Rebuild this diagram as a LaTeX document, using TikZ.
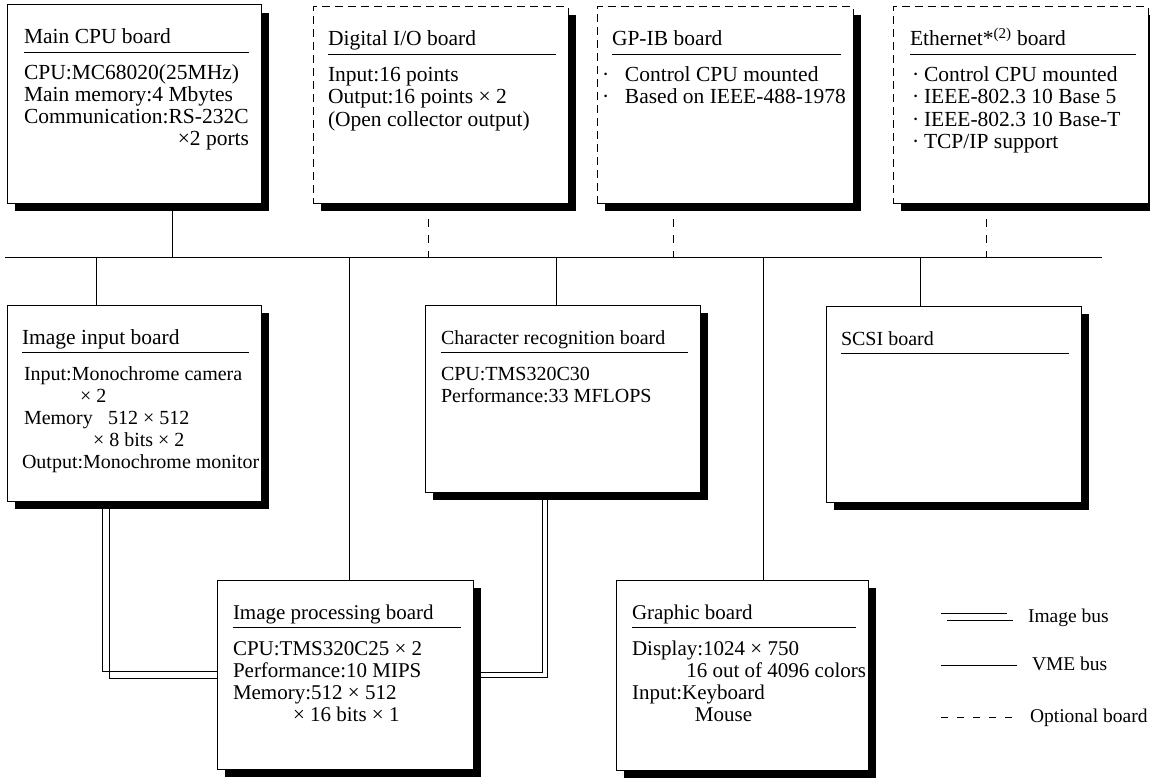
\documentclass[tikz,border=0pt]{standalone}
\usepackage{fontspec}
\setmainfont{Liberation Serif}
\usetikzlibrary{shadows,calc}
\newcommand\szTop{\fontsize{21.5pt}{22pt}\selectfont}
\newcommand\szMid{\fontsize{20pt}{22pt}\selectfont}
\newcommand\szLow{\fontsize{21pt}{22pt}\selectfont}
\newcommand\szLeg{\fontsize{19.5pt}{22pt}\selectfont}
\begin{document}
\begin{tikzpicture}[x=1pt,y=-1pt,
  every node/.style={inner sep=0pt, outer sep=0pt},
  board/.style={draw, line width=1pt, fill=white, anchor=north west,
    drop shadow={shadow xshift=8pt, shadow yshift=-8pt, fill=black, opacity=1}},
  optboard/.style={board, dash pattern=on 8pt off 5pt},
  txt/.style={anchor=base west},
  rtxt/.style={anchor=base east},
  rule/.style={line width=0.9pt},
  vme/.style={line width=0.9pt},
  optlink/.style={line width=0.9pt, dash pattern=on 8pt off 8pt},
  imgbus/.style={line width=0.8pt}]
\useasboundingbox (0,0) rectangle (1150,781);

% ---- boards --------------------------------------------------------
\node[board,    minimum width=254pt, minimum height=198pt] (cpu)  at (7,5)     {};
\node[optboard, minimum width=255pt, minimum height=196pt] (dio)  at (313,7)   {};
\node[optboard, minimum width=256pt, minimum height=196pt] (gpib) at (597,7)   {};
\node[optboard, minimum width=255pt, minimum height=196pt] (eth)  at (893,7)   {};
\node[board,    minimum width=254pt, minimum height=196pt] (inp)  at (7,305)   {};
\node[board,    minimum width=275pt, minimum height=187pt] (chr)  at (425,305) {};
\node[board,    minimum width=255pt, minimum height=196pt] (scsi) at (826,306) {};
\node[board,    minimum width=256pt, minimum height=189pt] (proc) at (217,580) {};
\node[board,    minimum width=252pt, minimum height=190pt] (gfx)  at (616,580) {};

% ---- headings with underline ----------------------------------------
\newcommand\boardhead[4]{%
  \node[txt, font=#2] (#1-t) at ($(#1.north west)+(#3,39)$) {#4};
  \draw[rule] ($(#1.north west)+(#3,47)$) -- ($(#1.north east)+(-12,47)$);}
\boardhead{cpu}{\szTop}{17}{Main CPU board}
\boardhead{dio}{\szTop}{15}{Digital I/O board}
\boardhead{gpib}{\szTop}{15}{GP-IB board}
\boardhead{eth}{\szTop}{17}{Ethernet*\textsuperscript{(2)} board}
\boardhead{inp}{\szTop}{15}{Image input board}
\boardhead{chr}{\szMid}{16}{Character recognition board}
\boardhead{scsi}{\szMid}{15}{SCSI board}
\boardhead{proc}{\szLow}{16}{Image processing board}
\boardhead{gfx}{\szLow}{16}{Graphic board}

% ---- main CPU board ---------------------------------------------------
\begin{scope}[every node/.append style={font=\szTop}]
\node[txt] (cpu-1) at ($(cpu.north west)+(17,75)$)  {CPU:MC68020(25MHz)};
\node[txt] (cpu-2) at ($(cpu.north west)+(17,97)$)  {Main memory:4 Mbytes};
\node[txt] (cpu-3) at ($(cpu.north west)+(17,119)$) {Communication:RS-232C};
\node[rtxt] (cpu-4) at ($(cpu.north east)+(-12,141)$) {×2 ports};
% digital I/O board
\node[txt] (dio-1) at ($(dio.north west)+(15,75)$)  {Input:16 points};
\node[txt] (dio-2) at ($(dio.north west)+(15,97)$)  {Output:16 points × 2};
\node[txt] (dio-3) at ($(dio.north west)+(15,119)$) {(Open collector output)};
% GP-IB board
\node[txt] (gpib-1) at ($(gpib.north west)+(5,75)$) {\makebox[23pt][l]{·}Control CPU mounted};
\node[txt] (gpib-2) at ($(gpib.north west)+(5,97)$) {\makebox[23pt][l]{·}Based on IEEE-488-1978};
% Ethernet board
\node[txt] (eth-1) at ($(eth.north west)+(19,75)$)  {\makebox[12pt][l]{·}Control CPU mounted};
\node[txt] (eth-2) at ($(eth.north west)+(19,97)$)  {\makebox[12pt][l]{·}IEEE-802.3 10 Base 5};
\node[txt] (eth-3) at ($(eth.north west)+(19,119)$) {\makebox[12pt][l]{·}IEEE-802.3 10 Base-T};
\node[txt] (eth-4) at ($(eth.north west)+(19,141)$) {\makebox[12pt][l]{·}TCP/IP support};
\end{scope}

% ---- image input board ------------------------------------------------
\begin{scope}[every node/.append style={font=\szMid}]
\node[txt] (inp-1) at ($(inp.north west)+(17,75)$)  {Input:Monochrome camera};
\node[txt] (inp-2) at ($(inp.north west)+(73,97)$)  {× 2};
\node[txt] (inp-3) at ($(inp.north west)+(17,119)$) {Memory};
\node[txt] (inp-3b) at ($(inp.north west)+(101,119)$) {512 × 512};
\node[txt] (inp-4) at ($(inp.north west)+(86,141)$) {× 8 bits × 2};
\node[txt] (inp-5) at ($(inp.north west)+(15,163)$) {Output:Monochrome monitor};
% character recognition board
\node[txt] (chr-1) at ($(chr.north west)+(16,75)$) {CPU:TMS320C30};
\node[txt] (chr-2) at ($(chr.north west)+(16,97)$) {Performance:33 MFLOPS};
\end{scope}

% ---- image processing and graphic boards -------------------------------
\begin{scope}[every node/.append style={font=\szLow}]
\node[txt] (proc-1) at ($(proc.north west)+(16,75)$)  {CPU:TMS320C25 × 2};
\node[txt] (proc-2) at ($(proc.north west)+(16,97)$)  {Performance:10 MIPS};
\node[txt] (proc-3) at ($(proc.north west)+(16,119)$) {Memory:512 × 512};
\node[txt] (proc-4) at ($(proc.north west)+(76,141)$) {× 16 bits × 1};
\node[txt] (gfx-1) at ($(gfx.north west)+(16,75)$) {Display:1024 × 750};
\node[rtxt] (gfx-2) at ($(gfx.north east)+(-2,97)$) {16 out of 4096 colors};
\node[txt] (gfx-3) at ($(gfx.north west)+(16,119)$) {Input:};
\node[txt] (gfx-3b) at (gfx-3.base east) {Keyboard};
\node[anchor=base] (gfx-4) at ($(gfx-3b.base)+(0,22)$) {Mouse};
\end{scope}

% ---- VME bus ------------------------------------------------------------
\coordinate (busL) at (5,257);
\coordinate (busR) at (1102,257);
\draw[vme] (busL) -- (busR);
\coordinate (t-cpu)  at (172,257);
\coordinate (t-dio)  at (428,257);
\coordinate (t-gpib) at (673,257);
\coordinate (t-eth)  at (986,257);
\coordinate (t-inp)  at (96,257);
\coordinate (t-proc) at (349,257);
\coordinate (t-chr)  at (556,257);
\coordinate (t-gfx)  at (763,257);
\coordinate (t-scsi) at (920,257);
\draw[vme]     (cpu.south -| t-cpu)   -- (t-cpu);
\draw[optlink] (dio.south -| t-dio)   -- (t-dio);
\draw[optlink] (gpib.south -| t-gpib) -- (t-gpib);
\draw[optlink] (eth.south -| t-eth)   -- (t-eth);
\draw[vme] (t-inp)  -- (t-inp |- inp.north);
\draw[vme] (t-proc) -- (t-proc |- proc.north);
\draw[vme] (t-chr)  -- (t-chr |- chr.north);
\draw[vme] (t-gfx)  -- (t-gfx |- gfx.north);
\draw[vme] (t-scsi) -- (t-scsi |- scsi.north);

% ---- image bus ------------------------------------------------------------
\coordinate (ib-l1) at (102,671);
\coordinate (ib-l2) at (109,678);
\coordinate (ib-r1) at (542,672);
\coordinate (ib-r2) at (547,677);
\draw[imgbus] (inp.south -| ib-l1) |- (proc.west |- ib-l1);
\draw[imgbus] (inp.south -| ib-l2) |- (proc.west |- ib-l2);
\draw[imgbus] (chr.south -| ib-r1) |- (proc.east |- ib-r1);
\draw[imgbus] (chr.south -| ib-r2) |- (proc.east |- ib-r2);

% ---- legend -----------------------------------------------------------------
\node[txt, font=\szLeg] (lg-img) at (1028,622) {Image bus};
\node[txt, font=\szLeg] (lg-vme) at (1032,670) {VME bus};
\node[txt, font=\szLeg] (lg-opt) at (1030,722) {Optional board};
\draw[imgbus] (941,613) -- (1007,613);
\draw[imgbus] (947,620) -- (1013,620);
\draw[vme] (941,665) -- (1017,665);
\draw[vme, dash pattern=on 7pt off 9pt] (941,717) -- (1012,717);
\end{tikzpicture}
\end{document}
